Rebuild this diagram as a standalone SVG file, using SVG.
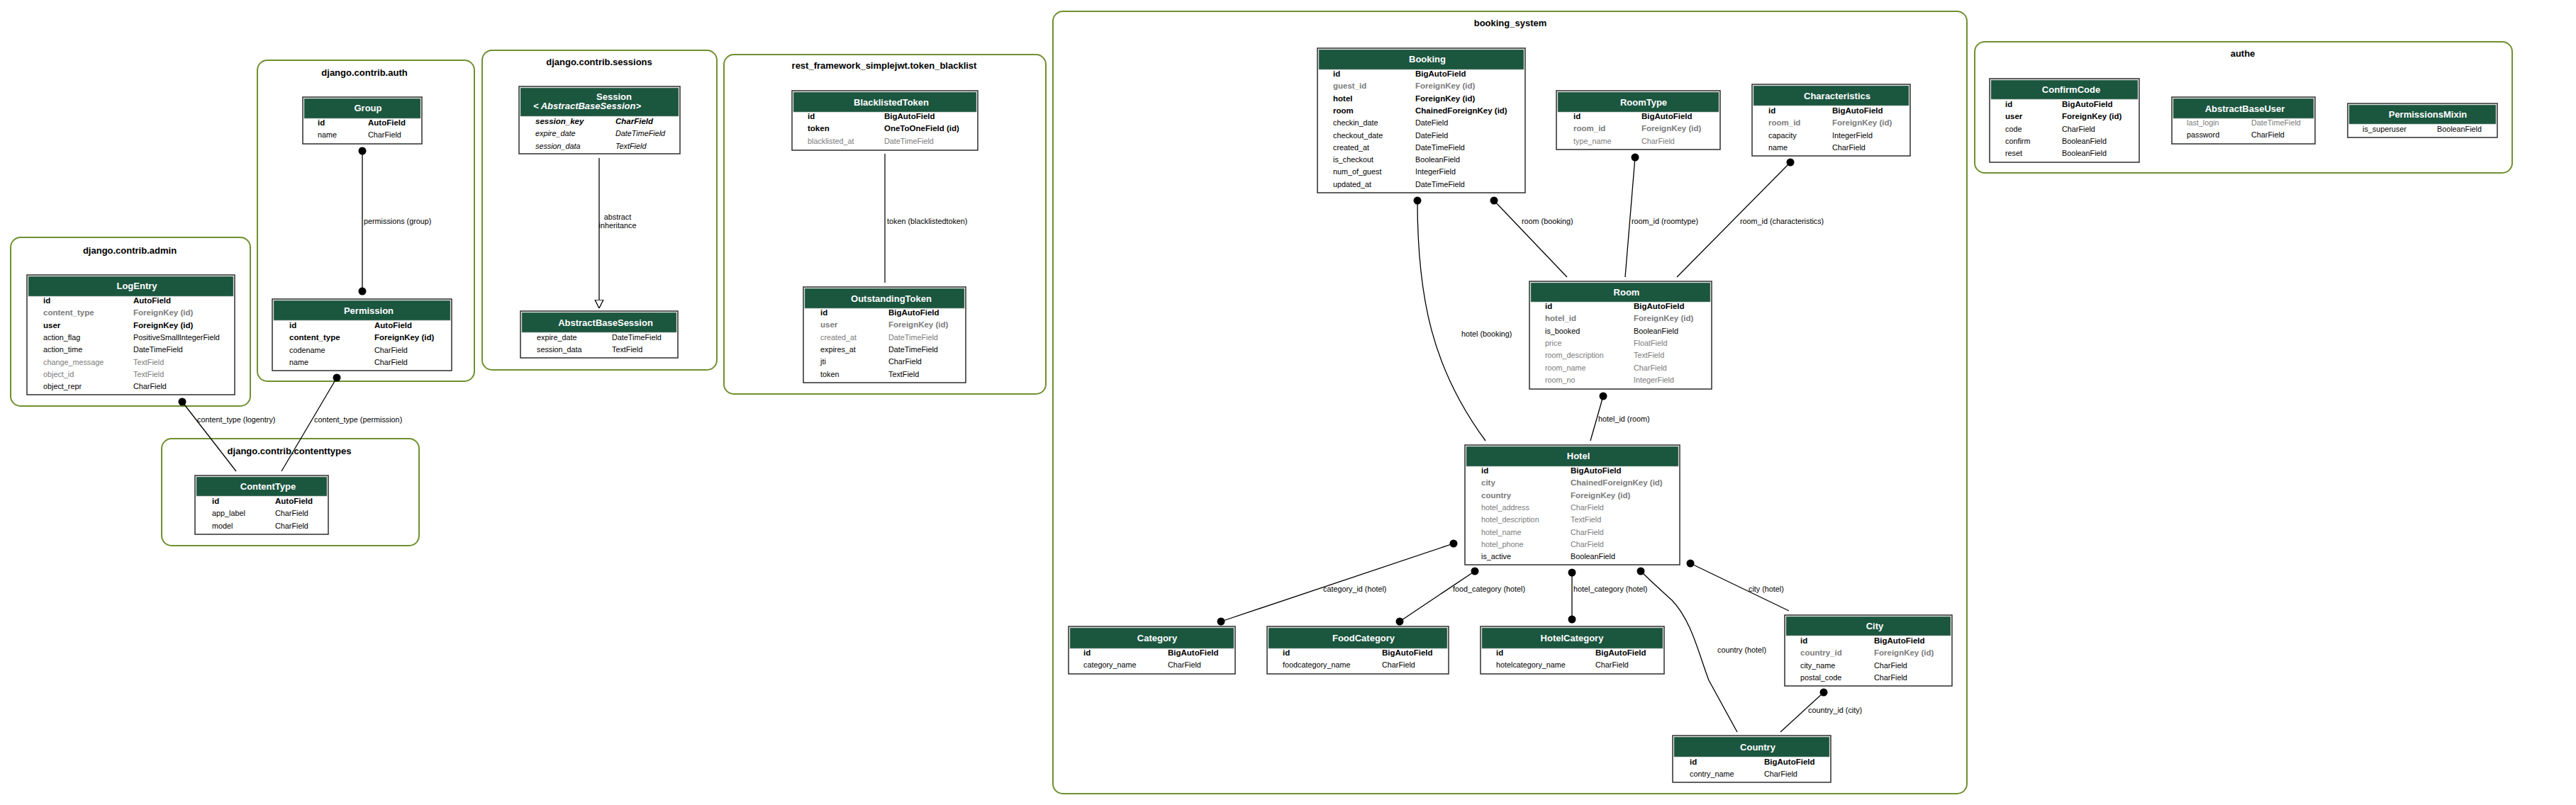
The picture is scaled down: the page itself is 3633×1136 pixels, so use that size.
<svg xmlns="http://www.w3.org/2000/svg" width="3633" height="1136" viewBox="0 0 3633 1136">
<style>
text{font-family:"Liberation Sans",Arial,sans-serif;}
.cl{fill:#ffffff;stroke:#6f9030;stroke-width:2;}
.ct{font-size:13px;font-weight:bold;text-anchor:middle;fill:#000;}
.tbl{fill:#ffffff;stroke:#3a3a3a;stroke-width:1.6;}
.hdr{fill:#1b563f;stroke:#8a9a90;stroke-width:0.6;}
.ht{font-size:13px;font-weight:bold;fill:#ffffff;text-anchor:middle;}
.hs{font-size:13px;font-weight:bold;font-style:italic;fill:#ffffff;text-anchor:start;}
.r{font-size:10.8px;fill:#000;}
.b{font-size:11.5px;font-weight:bold;fill:#000;}
.g{fill:#7b7b7b;}
.i{font-style:italic;}
.e{fill:none;stroke:#000;stroke-width:1.3;}
.d{fill:#000;}
.el{font-size:10.8px;fill:#000;}
.em{font-size:10.8px;fill:#000;text-anchor:middle;}
</style>
<rect x="0" y="0" width="3633" height="1136" fill="#ffffff"/>
<defs>
<marker id="tri" viewBox="0 0 12 16" refX="12" refY="8" markerWidth="12" markerHeight="16" markerUnits="userSpaceOnUse" orient="auto">
<path d="M0,2 L12,8 L0,14 Z" fill="#ffffff" stroke="#000" stroke-width="1.3"/>
</marker>
</defs>

<g id="clusters">
<g id="cluster-admin"><rect class="cl" x="15" y="335" width="338" height="238" rx="14"/><text class="ct" x="183" y="358">django.contrib.admin</text></g>
<g id="cluster-auth"><rect class="cl" x="363" y="85" width="306" height="453" rx="14"/><text class="ct" x="514" y="107">django.contrib.auth</text></g>
<g id="cluster-contenttypes"><rect class="cl" x="228" y="619" width="363" height="151" rx="14"/><text class="ct" x="408" y="641">django.contrib.contenttypes</text></g>
<g id="cluster-sessions"><rect class="cl" x="680" y="71" width="331" height="451" rx="14"/><text class="ct" x="845" y="92">django.contrib.sessions</text></g>
<g id="cluster-token-blacklist"><rect class="cl" x="1021" y="77" width="454" height="479" rx="14"/><text class="ct" x="1247" y="97">rest_framework_simplejwt.token_blacklist</text></g>
<g id="cluster-booking-system"><rect class="cl" x="1485" y="16" width="1289" height="1104" rx="14"/><text class="ct" x="2130" y="37">booking_system</text></g>
<g id="cluster-authe"><rect class="cl" x="2785" y="59" width="758" height="185" rx="14"/><text class="ct" x="3163" y="80">authe</text></g>
</g>

<g id="connectors">
<line class="e" x1="511" y1="213" x2="511" y2="411"/><circle class="d" cx="511" cy="213" r="5.5"/><circle class="d" cx="511" cy="411" r="5.5"/>
<text class="el" x="513" y="316">permissions (group)</text>
<line class="e" x1="257" y1="567" x2="333" y2="665"/><circle class="d" cx="257" cy="567" r="5.5"/>
<text class="el" x="278" y="596">content_type (logentry)</text>
<line class="e" x1="475" y1="533" x2="397" y2="665"/><circle class="d" cx="475" cy="533" r="5.5"/>
<text class="el" x="443" y="596">content_type (permission)</text>
<line class="e" x1="845" y1="223" x2="845" y2="435" marker-end="url(#tri)"/>
<text class="em" x="871" y="310">abstract</text>
<text class="em" x="871" y="322">inheritance</text>
<line x1="1248" y1="217" x2="1248" y2="399" stroke="#505050" stroke-width="1.8"/>
<text class="el" x="1251" y="316">token (blacklistedtoken)</text>
<path class="e" d="M1999,283 C1999,420 2020,520 2095,622"/><circle class="d" cx="1999" cy="283" r="5.5"/>
<text class="el" x="2061" y="475">hotel (booking)</text>
<line class="e" x1="2107" y1="283" x2="2210" y2="391"/><circle class="d" cx="2107" cy="283" r="5.5"/>
<text class="el" x="2146" y="316">room (booking)</text>
<line class="e" x1="2306" y1="222" x2="2292" y2="391"/><circle class="d" cx="2306" cy="222" r="5.5"/>
<text class="el" x="2301" y="316">room_id (roomtype)</text>
<line class="e" x1="2525" y1="229" x2="2365" y2="391"/><circle class="d" cx="2525" cy="229" r="5.5"/>
<text class="el" x="2454" y="316">room_id (characteristics)</text>
<line class="e" x1="2261" y1="559" x2="2243" y2="622"/><circle class="d" cx="2261" cy="559" r="5.5"/>
<text class="el" x="2254" y="595">hotel_id (room)</text>
<line class="e" x1="2050" y1="767" x2="1722" y2="877"/><circle class="d" cx="2050" cy="767" r="5.5"/><circle class="d" cx="1722" cy="877" r="5.5"/>
<text class="el" x="1866" y="835">category_id (hotel)</text>
<line class="e" x1="2080" y1="806" x2="1974" y2="877"/><circle class="d" cx="2080" cy="806" r="5.5"/><circle class="d" cx="1974" cy="877" r="5.5"/>
<text class="el" x="2049" y="835">food_category (hotel)</text>
<line class="e" x1="2217" y1="808" x2="2217" y2="874"/><circle class="d" cx="2217" cy="808" r="5.5"/><circle class="d" cx="2217" cy="874" r="5.5"/>
<text class="el" x="2219" y="835">hotel_category (hotel)</text>
<path class="e" d="M2314,806 C2330,822 2345,835 2358,847 C2385,875 2395,920 2410,960 L2450,1033"/><circle class="d" cx="2314" cy="806" r="5.5"/>
<text class="el" x="2422" y="921">country (hotel)</text>
<line class="e" x1="2384" y1="795" x2="2523" y2="862"/><circle class="d" cx="2384" cy="795" r="5.5"/>
<text class="el" x="2466" y="835">city (hotel)</text>
<line class="e" x1="2572" y1="977" x2="2511" y2="1033"/><circle class="d" cx="2572" cy="977" r="5.5"/>
<text class="el" x="2550" y="1006">country_id (city)</text>
</g>

<g id="LogEntry">
<rect class="tbl" x="38" y="388" width="293" height="169"/><rect class="hdr" x="40" y="390" width="289" height="28"/>
<text class="ht" x="193" y="408">LogEntry</text>
<text class="b" x="61" y="428">id</text><text class="b" x="188" y="428">AutoField</text>
<text class="b g" x="61" y="445.3">content_type</text><text class="b g" x="188" y="445.3">ForeignKey (id)</text>
<text class="b" x="61" y="462.6">user</text><text class="b" x="188" y="462.6">ForeignKey (id)</text>
<text class="r" x="61" y="479.9">action_flag</text><text class="r" x="188" y="479.9">PositiveSmallIntegerField</text>
<text class="r" x="61" y="497.2">action_time</text><text class="r" x="188" y="497.2">DateTimeField</text>
<text class="r g" x="61" y="514.5">change_message</text><text class="r g" x="188" y="514.5">TextField</text>
<text class="r g" x="61" y="531.8">object_id</text><text class="r g" x="188" y="531.8">TextField</text>
<text class="r" x="61" y="549.1">object_repr</text><text class="r" x="188" y="549.1">CharField</text>
</g>

<g id="Group">
<rect class="tbl" x="427" y="137" width="168" height="66"/><rect class="hdr" x="429" y="139" width="164" height="28"/>
<text class="ht" x="519" y="157">Group</text>
<text class="b" x="448" y="177">id</text><text class="b" x="519" y="177">AutoField</text>
<text class="r" x="448" y="194.3">name</text><text class="r" x="519" y="194.3">CharField</text>
</g>

<g id="Permission">
<rect class="tbl" x="384" y="422" width="253" height="101"/><rect class="hdr" x="386" y="424" width="249" height="28"/>
<text class="ht" x="520" y="442.5">Permission</text>
<text class="b" x="408" y="463">id</text><text class="b" x="528" y="463">AutoField</text>
<text class="b" x="408" y="480.3">content_type</text><text class="b" x="528" y="480.3">ForeignKey (id)</text>
<text class="r" x="408" y="497.6">codename</text><text class="r" x="528" y="497.6">CharField</text>
<text class="r" x="408" y="514.9">name</text><text class="r" x="528" y="514.9">CharField</text>
</g>

<g id="ContentType">
<rect class="tbl" x="275" y="671" width="188" height="83"/><rect class="hdr" x="277" y="673" width="184" height="27"/>
<text class="ht" x="378" y="691">ContentType</text>
<text class="b" x="299" y="711">id</text><text class="b" x="388" y="711">AutoField</text>
<text class="r" x="299" y="728.3">app_label</text><text class="r" x="388" y="728.3">CharField</text>
<text class="r" x="299" y="745.6">model</text><text class="r" x="388" y="745.6">CharField</text>
</g>

<g id="Session">
<rect class="tbl" x="732" y="122" width="227" height="95"/><rect class="hdr" x="734" y="124" width="223" height="40"/>
<text class="ht" x="866" y="141">Session</text>
<text class="hs" x="752" y="154">&lt; AbstractBaseSession&gt;</text>
<text class="b i" x="755" y="175">session_key</text><text class="b i" x="868" y="175">CharField</text>
<text class="r i" x="755" y="192.3">expire_date</text><text class="r i" x="868" y="192.3">DateTimeField</text>
<text class="r i" x="755" y="209.6">session_data</text><text class="r i" x="868" y="209.6">TextField</text>
</g>

<g id="AbstractBaseSession">
<rect class="tbl" x="734" y="439" width="222" height="66"/><rect class="hdr" x="736" y="441" width="218" height="28"/>
<text class="ht" x="854" y="460">AbstractBaseSession</text>
<text class="r" x="757" y="480">expire_date</text><text class="r" x="863" y="480">DateTimeField</text>
<text class="r" x="757" y="497.3">session_data</text><text class="r" x="863" y="497.3">TextField</text>
</g>

<g id="BlacklistedToken">
<rect class="tbl" x="1117" y="128" width="262" height="84"/><rect class="hdr" x="1119" y="130" width="258" height="28"/>
<text class="ht" x="1257" y="148.5">BlacklistedToken</text>
<text class="b" x="1139" y="168">id</text><text class="b" x="1247" y="168">BigAutoField</text>
<text class="b" x="1139" y="185.3">token</text><text class="b" x="1247" y="185.3">OneToOneField (id)</text>
<text class="r g" x="1139" y="202.6">blacklisted_at</text><text class="r g" x="1247" y="202.6">DateTimeField</text>
</g>

<g id="OutstandingToken">
<rect class="tbl" x="1133" y="405" width="229" height="135"/><rect class="hdr" x="1135" y="407" width="225" height="28"/>
<text class="ht" x="1257" y="425.5">OutstandingToken</text>
<text class="b" x="1157" y="445">id</text><text class="b" x="1253" y="445">BigAutoField</text>
<text class="b g" x="1157" y="462.3">user</text><text class="b g" x="1253" y="462.3">ForeignKey (id)</text>
<text class="r g" x="1157" y="479.6">created_at</text><text class="r g" x="1253" y="479.6">DateTimeField</text>
<text class="r" x="1157" y="496.9">expires_at</text><text class="r" x="1253" y="496.9">DateTimeField</text>
<text class="r" x="1157" y="514.2">jti</text><text class="r" x="1253" y="514.2">CharField</text>
<text class="r" x="1157" y="531.5">token</text><text class="r" x="1253" y="531.5">TextField</text>
</g>

<g id="Booking">
<rect class="tbl" x="1858" y="68" width="293" height="204"/><rect class="hdr" x="1860" y="70" width="289" height="28"/>
<text class="ht" x="2013" y="87.5">Booking</text>
<text class="b" x="1880" y="108">id</text><text class="b" x="1996" y="108">BigAutoField</text>
<text class="b g" x="1880" y="125.3">guest_id</text><text class="b g" x="1996" y="125.3">ForeignKey (id)</text>
<text class="b" x="1880" y="142.6">hotel</text><text class="b" x="1996" y="142.6">ForeignKey (id)</text>
<text class="b" x="1880" y="159.9">room</text><text class="b" x="1996" y="159.9">ChainedForeignKey (id)</text>
<text class="r" x="1880" y="177.2">checkin_date</text><text class="r" x="1996" y="177.2">DateField</text>
<text class="r" x="1880" y="194.5">checkout_date</text><text class="r" x="1996" y="194.5">DateField</text>
<text class="r" x="1880" y="211.8">created_at</text><text class="r" x="1996" y="211.8">DateTimeField</text>
<text class="r" x="1880" y="229.1">is_checkout</text><text class="r" x="1996" y="229.1">BooleanField</text>
<text class="r" x="1880" y="246.4">num_of_guest</text><text class="r" x="1996" y="246.4">IntegerField</text>
<text class="r" x="1880" y="263.7">updated_at</text><text class="r" x="1996" y="263.7">DateTimeField</text>
</g>

<g id="RoomType">
<rect class="tbl" x="2195" y="128" width="231" height="83"/><rect class="hdr" x="2197" y="130" width="227" height="28"/>
<text class="ht" x="2318" y="148.5">RoomType</text>
<text class="b" x="2219" y="168">id</text><text class="b" x="2315" y="168">BigAutoField</text>
<text class="b g" x="2219" y="185.3">room_id</text><text class="b g" x="2315" y="185.3">ForeignKey (id)</text>
<text class="r g" x="2219" y="202.6">type_name</text><text class="r g" x="2315" y="202.6">CharField</text>
</g>

<g id="Characteristics">
<rect class="tbl" x="2471" y="119" width="223" height="101"/><rect class="hdr" x="2473" y="121" width="219" height="28"/>
<text class="ht" x="2591" y="139.5">Characteristics</text>
<text class="b" x="2494" y="160">id</text><text class="b" x="2584" y="160">BigAutoField</text>
<text class="b g" x="2494" y="177.3">room_id</text><text class="b g" x="2584" y="177.3">ForeignKey (id)</text>
<text class="r" x="2494" y="194.6">capacity</text><text class="r" x="2584" y="194.6">IntegerField</text>
<text class="r" x="2494" y="211.9">name</text><text class="r" x="2584" y="211.9">CharField</text>
</g>

<g id="Room">
<rect class="tbl" x="2157" y="397" width="257" height="152"/><rect class="hdr" x="2159" y="399" width="253" height="27"/>
<text class="ht" x="2294" y="416.5">Room</text>
<text class="b" x="2179" y="436">id</text><text class="b" x="2304" y="436">BigAutoField</text>
<text class="b g" x="2179" y="453.3">hotel_id</text><text class="b g" x="2304" y="453.3">ForeignKey (id)</text>
<text class="r" x="2179" y="470.6">is_booked</text><text class="r" x="2304" y="470.6">BooleanField</text>
<text class="r g" x="2179" y="487.9">price</text><text class="r g" x="2304" y="487.9">FloatField</text>
<text class="r g" x="2179" y="505.2">room_description</text><text class="r g" x="2304" y="505.2">TextField</text>
<text class="r g" x="2179" y="522.5">room_name</text><text class="r g" x="2304" y="522.5">CharField</text>
<text class="r g" x="2179" y="539.8">room_no</text><text class="r g" x="2304" y="539.8">IntegerField</text>
</g>

<g id="Hotel">
<rect class="tbl" x="2066" y="628" width="303" height="169"/><rect class="hdr" x="2068" y="630" width="299" height="28"/>
<text class="ht" x="2226" y="648">Hotel</text>
<text class="b" x="2089" y="668">id</text><text class="b" x="2215" y="668">BigAutoField</text>
<text class="b g" x="2089" y="685.3">city</text><text class="b g" x="2215" y="685.3">ChainedForeignKey (id)</text>
<text class="b g" x="2089" y="702.6">country</text><text class="b g" x="2215" y="702.6">ForeignKey (id)</text>
<text class="r g" x="2089" y="719.9">hotel_address</text><text class="r g" x="2215" y="719.9">CharField</text>
<text class="r g" x="2089" y="737.2">hotel_description</text><text class="r g" x="2215" y="737.2">TextField</text>
<text class="r g" x="2089" y="754.5">hotel_name</text><text class="r g" x="2215" y="754.5">CharField</text>
<text class="r g" x="2089" y="771.8">hotel_phone</text><text class="r g" x="2215" y="771.8">CharField</text>
<text class="r" x="2089" y="789.1">is_active</text><text class="r" x="2215" y="789.1">BooleanField</text>
</g>

<g id="Category">
<rect class="tbl" x="1507" y="884" width="235" height="67"/><rect class="hdr" x="1509" y="886" width="231" height="29"/>
<text class="ht" x="1632" y="905">Category</text>
<text class="b" x="1528" y="925">id</text><text class="b" x="1647" y="925">BigAutoField</text>
<text class="r" x="1528" y="942.3">category_name</text><text class="r" x="1647" y="942.3">CharField</text>
</g>

<g id="FoodCategory">
<rect class="tbl" x="1787" y="884" width="256" height="67"/><rect class="hdr" x="1789" y="886" width="252" height="29"/>
<text class="ht" x="1923" y="905">FoodCategory</text>
<text class="b" x="1809" y="925">id</text><text class="b" x="1949" y="925">BigAutoField</text>
<text class="r" x="1809" y="942.3">foodcategory_name</text><text class="r" x="1949" y="942.3">CharField</text>
</g>

<g id="HotelCategory">
<rect class="tbl" x="2088" y="884" width="259" height="67"/><rect class="hdr" x="2090" y="886" width="255" height="29"/>
<text class="ht" x="2217" y="905">HotelCategory</text>
<text class="b" x="2110" y="925">id</text><text class="b" x="2250" y="925">BigAutoField</text>
<text class="r" x="2110" y="942.3">hotelcategory_name</text><text class="r" x="2250" y="942.3">CharField</text>
</g>

<g id="City">
<rect class="tbl" x="2517" y="868" width="236" height="100"/><rect class="hdr" x="2519" y="870" width="232" height="27"/>
<text class="ht" x="2644" y="887.5">City</text>
<text class="b" x="2539" y="908">id</text><text class="b" x="2643" y="908">BigAutoField</text>
<text class="b g" x="2539" y="925.3">country_id</text><text class="b g" x="2643" y="925.3">ForeignKey (id)</text>
<text class="r" x="2539" y="942.6">city_name</text><text class="r" x="2643" y="942.6">CharField</text>
<text class="r" x="2539" y="959.9">postal_code</text><text class="r" x="2643" y="959.9">CharField</text>
</g>

<g id="Country">
<rect class="tbl" x="2359" y="1038" width="223" height="66"/><rect class="hdr" x="2361" y="1040" width="219" height="28"/>
<text class="ht" x="2479" y="1058.5">Country</text>
<text class="b" x="2383" y="1079">id</text><text class="b" x="2488" y="1079">BigAutoField</text>
<text class="r" x="2383" y="1096.3">contry_name</text><text class="r" x="2488" y="1096.3">CharField</text>
</g>

<g id="ConfirmCode">
<rect class="tbl" x="2806" y="111" width="211" height="118"/><rect class="hdr" x="2808" y="113" width="207" height="27"/>
<text class="ht" x="2921" y="131">ConfirmCode</text>
<text class="b" x="2828" y="151">id</text><text class="b" x="2908" y="151">BigAutoField</text>
<text class="b" x="2828" y="168.3">user</text><text class="b" x="2908" y="168.3">ForeignKey (id)</text>
<text class="r" x="2828" y="185.6">code</text><text class="r" x="2908" y="185.6">CharField</text>
<text class="r" x="2828" y="202.9">confirm</text><text class="r" x="2908" y="202.9">BooleanField</text>
<text class="r" x="2828" y="220.2">reset</text><text class="r" x="2908" y="220.2">BooleanField</text>
</g>

<g id="AbstractBaseUser">
<rect class="tbl" x="3063" y="137" width="202" height="66"/><rect class="hdr" x="3065" y="139" width="198" height="28"/>
<text class="ht" x="3166" y="157.5">AbstractBaseUser</text>
<text class="r g" x="3084" y="177">last_login</text><text class="r g" x="3175" y="177">DateTimeField</text>
<text class="r" x="3084" y="194.3">password</text><text class="r" x="3175" y="194.3">CharField</text>
</g>

<g id="PermissionsMixin">
<rect class="tbl" x="3311" y="146" width="211" height="48"/><rect class="hdr" x="3313" y="148" width="207" height="27"/>
<text class="ht" x="3424" y="165.5">PermissionsMixin</text>
<text class="r" x="3332" y="186">is_superuser</text><text class="r" x="3437" y="186">BooleanField</text>
</g>
</svg>
